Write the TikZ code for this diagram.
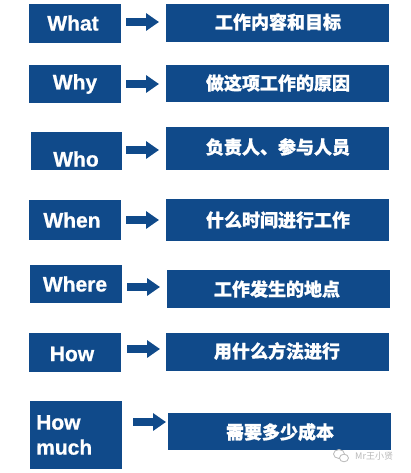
\documentclass[tikz,border=0pt]{standalone}
\usepackage{fontspec}
\setmainfont{Liberation Sans}[BoldFeatures={FakeBold=0.8}]
\newfontfamily\cjk{Noto Sans CJK SC}[BoldFeatures={FakeBold=1}]
\usetikzlibrary{arrows.meta}
\definecolor{navy}{RGB}{16,74,138}
\definecolor{wm}{RGB}{185,185,185}
\tikzset{
  box/.style={fill=navy, draw=none},
  lbl/.style={text=white, font=\fontsize{21}{23}\selectfont\bfseries, inner sep=0pt},
  clbl/.style={text=white, font=\cjk\fontsize{18}{20}\selectfont\bfseries, inner sep=0pt},
  arr/.style={draw=navy, line width=8pt, -{Triangle[length=13pt,width=17pt]}},
}
\begin{document}
\begin{tikzpicture}[x=1pt,y=-1pt]
\useasboundingbox[fill=white] (0,0) rectangle (411,473);
% row 1
\path[box] (29,4) rectangle (121,43);
\node[lbl] (l1) at (73,23) {What};
\path[box] (166,4) rectangle (389,42);
\node[clbl] (r1) at (278,22) {工作内容和目标};
\coordinate (a1) at (126,22); \coordinate (b1) at (159,22);
\draw[arr] (a1) -- (b1);
% row 2
\path[box] (29,65) rectangle (121,103);
\node[lbl] (l2) at (75,84) {Why};
\path[box] (166,65) rectangle (389,102);
\node[clbl] (r2) at (278,83) {做这项工作的原因};
\coordinate (a2) at (126,84); \coordinate (b2) at (159,84);
\draw[arr] (a2) -- (b2);
% row 3
\path[box] (31,132) rectangle (122,170);
\node[lbl] (l3) at (76,159) {Who};
\path[box] (166,127) rectangle (389,170);
\node[clbl] (r3) at (278,147) {负责人、参与人员};
\coordinate (a3) at (126,150); \coordinate (b3) at (159,150);
\draw[arr] (a3) -- (b3);
% row 4
\path[box] (29,200) rectangle (121,240);
\node[lbl] (l4) at (72,220) {When};
\path[box] (166,199) rectangle (389,241);
\node[clbl] (r4) at (278,220) {什么时间进行工作};
\coordinate (a4) at (126,220); \coordinate (b4) at (159,220);
\draw[arr] (a4) -- (b4);
% row 5
\path[box] (30,265) rectangle (122,303);
\node[lbl] (l5) at (75,284) {Where};
\path[box] (167,270) rectangle (390,308);
\node[clbl] (r5) at (277,289) {工作发生的地点};
\coordinate (a5) at (127,287); \coordinate (b5) at (160,287);
\draw[arr] (a5) -- (b5);
% row 6
\path[box] (29,333) rectangle (121,372);
\node[lbl] (l6) at (72,354) {How};
\path[box] (166,333) rectangle (389,371);
\node[clbl] (r6) at (277,351) {用什么方法进行};
\coordinate (a6) at (127,349); \coordinate (b6) at (160,349);
\draw[arr] (a6) -- (b6);
% row 7
\path[box] (30,401) rectangle (122,469);
\node[lbl, align=left, anchor=west, font=\fontsize{21}{25}\selectfont\bfseries] (l7) at (36,435) {How\\much};
\path[box] (168,413) rectangle (391,450);
\node[clbl] (r7) at (280,432) {需要多少成本};
\coordinate (a7) at (133,422); \coordinate (b7) at (166,422);
\draw[arr] (a7) -- (b7);
% watermark
\draw[wm, fill=white, line width=0.8pt] (339,454) ellipse (5.5pt and 4.5pt);
\draw[wm, fill=white, line width=0.8pt] (344,458) ellipse (4.5pt and 3.8pt);
\node[text=wm, font=\cjk\fontsize{9}{10}\selectfont, inner sep=0pt, anchor=west] (wm) at (355,456) {Mr王小贤};
\end{tikzpicture}
\end{document}
